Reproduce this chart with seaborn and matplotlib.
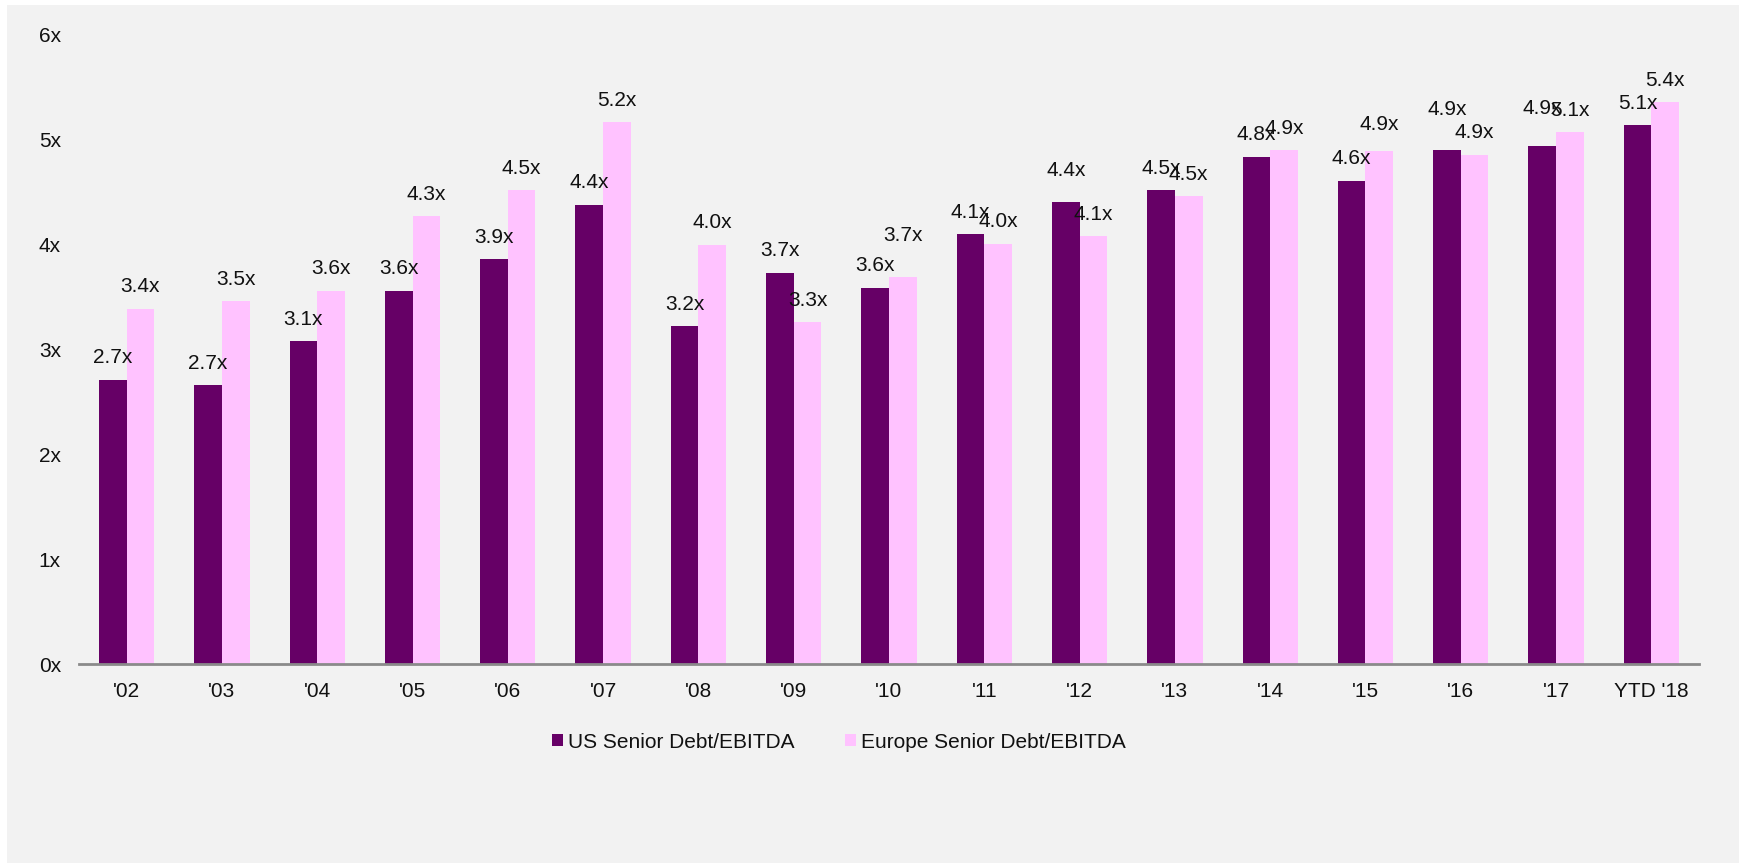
import matplotlib
matplotlib.use("Agg")
import matplotlib.pyplot as plt
from matplotlib.patches import Rectangle
import seaborn as sns
import pandas as pd

# ---- data ----
categories = ["'02", "'03", "'04", "'05", "'06", "'07", "'08", "'09", "'10",
              "'11", "'12", "'13", "'14", "'15", "'16", "'17", "YTD '18"]
us_values = [2.71, 2.66, 3.08, 3.56, 3.86, 4.38, 3.22, 3.73, 3.59,
             4.10, 4.41, 4.52, 4.84, 4.61, 4.90, 4.94, 5.14]
europe_values = [3.39, 3.46, 3.56, 4.27, 4.52, 5.17, 4.00, 3.26, 3.69,
                 4.01, 4.08, 4.46, 4.90, 4.89, 4.86, 5.07, 5.36]
series_names = ["US Senior Debt/EBITDA", "Europe Senior Debt/EBITDA"]
y_ticks = [0, 1, 2, 3, 4, 5, 6]
y_tick_labels = ["0x", "1x", "2x", "3x", "4x", "5x", "6x"]

df = pd.DataFrame({
    "Year": categories * 2,
    "Value": us_values + europe_values,
    "Series": [series_names[0]] * len(categories) + [series_names[1]] * len(categories),
})

# ---- style ----
sns.set_theme(style="white")
plt.rcParams["font.family"] = ["Liberation Sans", "DejaVu Sans"]
DARK = "#660066"
PINK = "#FFC2FF"
BG = "#F2F2F2"
TXT = "#111111"
W, H, DPI = 1739, 864, 100

fig = plt.figure(figsize=(W / DPI, H / DPI), dpi=DPI, facecolor="white")
fig.patches.append(Rectangle((7 / W, 1 / H), 1 - 7 / W, 1 - 6 / H,
                             transform=fig.transFigure, facecolor=BG,
                             edgecolor="none", zorder=-10))
ax = fig.add_axes([79 / W, 1 - 664 / H, (1699 - 79) / W, (664 - 35) / H])
ax.set_facecolor(BG)

sns.barplot(data=df, x="Year", y="Value", hue="Series", order=categories,
            hue_order=series_names, palette=[DARK, PINK], width=0.58,
            saturation=1, linewidth=0, ax=ax, legend=True)

ax.set_ylim(0, 6)
ax.set_xlim(-0.5, len(categories) - 0.5)
ax.set_yticks(y_ticks)
ax.set_yticklabels(y_tick_labels)
ax.set_xlabel("")
ax.set_ylabel("")
ax.tick_params(axis="y", length=0, pad=13, labelsize=15, labelcolor=TXT)
ax.tick_params(axis="x", length=0, pad=13, labelsize=15, labelcolor=TXT)
for s in ["top", "right", "left"]:
    ax.spines[s].set_visible(False)
ax.spines["bottom"].set_color("#8A8A8A")
ax.spines["bottom"].set_linewidth(2)

# data labels
px = 72 / DPI
base_lift = 22
extra_lift = {(0, 14): 19, (0, 15): 16, (0, 10): 9, (1, 8): 20, (1, 13): 5}
for si, container in enumerate(ax.containers[:2]):
    for bi, bar in enumerate(container):
        h = bar.get_height()
        xc = bar.get_x() + bar.get_width() / 2
        lift = base_lift + extra_lift.get((si, bi), 0)
        ax.annotate(f"{h:.1f}x", (xc, h), xytext=(0, lift * px),
                    textcoords="offset points", ha="center", va="center",
                    fontsize=15, color=TXT)

# legend
leg = ax.get_legend()
handles = leg.legend_handles
leg.remove()
fig.legend(handles, series_names, loc="center",
           bbox_to_anchor=(839 / W, 1 - 742 / H), ncol=2, frameon=False,
           fontsize=15, handlelength=0.5, handleheight=0.5,
           handletextpad=0.25, columnspacing=2.45, labelcolor=TXT)

fig.savefig("out.png", dpi=DPI, facecolor=fig.get_facecolor())
